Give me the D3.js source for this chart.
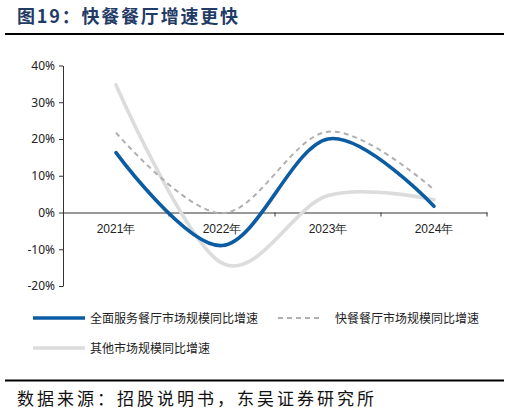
<!DOCTYPE html>
<html>
<head>
<meta charset="utf-8">
<script src="https://cdn.jsdelivr.net/npm/d3@7"></script>
<style>
  body { margin: 0; background: #fff; }
  svg { display: block; font-family: "Noto Sans CJK SC", "Noto Sans", sans-serif; }
</style>
</head>
<body>
<svg id="chart" width="510" height="413"></svg>
<script>
// data
var years = ["2021年", "2022年", "2023年", "2024年"];
var fullService = [16.3, -9.0, 20.0, 1.7];
var fastFood = [21.7, -0.2, 22.0, 6.2];
var others = [34.7, -13.8, 4.6, 3.5];
var yTicks = [-20, -10, 0, 10, 20, 30, 40];

var series = [
  { name: "全面服务餐厅市场规模同比增速", values: fullService, color: "#0B5CA3", width: 3.6, dash: null },
  { name: "快餐餐厅市场规模同比增速", values: fastFood, color: "#B0B0B0", width: 2, dash: "5,4" },
  { name: "其他市场规模同比增速", values: others, color: "#DCDCDC", width: 3.6, dash: null }
];

var svg = d3.select("#chart");
var plotL = 63, plotR = 487, plotT = 65.5, plotB = 286;

var x = d3.scaleBand().domain(years).range([plotL, plotR]);
var y = d3.scaleLinear().domain([-20, 40]).range([plotB, plotT]);

// title
svg.append("text")
  .attr("x", 17).attr("y", 23)
  .attr("font-size", 18).attr("font-weight", "bold")
  .attr("letter-spacing", 1.8)
  .attr("fill", "#1F3B66")
  .text("图19：快餐餐厅增速更快");
svg.append("line")
  .attr("x1", 5).attr("x2", 504).attr("y1", 34).attr("y2", 34)
  .attr("stroke", "#000").attr("stroke-width", 2);

// y axis
var yAxis = svg.append("g")
  .attr("transform", "translate(" + plotL + ",0)")
  .call(d3.axisLeft(y).tickValues(yTicks).tickFormat(function (d) { return d + "%"; }).tickSize(4).tickSizeOuter(0));
yAxis.select(".domain").attr("stroke", "#333");
yAxis.selectAll(".tick line").attr("stroke", "#333");
yAxis.selectAll(".tick text").attr("font-size", 12).attr("fill", "#222")
  .attr("font-family", "'Noto Sans', sans-serif").attr("x", -8);

// x axis at 0%
var xAxis = svg.append("g")
  .attr("transform", "translate(0," + y(0) + ")")
  .call(d3.axisBottom(x).tickSize(0));
xAxis.select(".domain").attr("stroke", "#333");
xAxis.selectAll(".tick text").attr("font-size", 12).attr("fill", "#222").attr("dy", "1.45em");
// ticks at band edges
var edges = years.map(function (d) { return x(d); }).concat([plotR]);
svg.append("g").selectAll("line").data(edges.slice(1)).enter().append("line")
  .attr("x1", function (d) { return d; }).attr("x2", function (d) { return d; })
  .attr("y1", y(0)).attr("y2", y(0) + 4)
  .attr("stroke", "#333");

// lines, drawn so that blue is on top
var line = d3.line()
  .x(function (d, i) { return x(years[i]) + x.bandwidth() / 2; })
  .y(function (d) { return y(d); })
  .curve(d3.curveCatmullRom.alpha(0));

[series[2], series[1], series[0]].forEach(function (s) {
  svg.append("path")
    .attr("d", line(s.values))
    .attr("fill", "none")
    .attr("stroke", s.color)
    .attr("stroke-width", s.width)
    .attr("stroke-dasharray", s.dash)
    .attr("stroke-linecap", s.dash ? "butt" : "round");
});

// legend
var legendPos = [[33, 318], [278, 318], [33, 348]];
series.forEach(function (s, i) {
  var p = legendPos[i];
  var len = i === 1 ? 44 : 52;
  svg.append("line")
    .attr("x1", p[0]).attr("x2", p[0] + len).attr("y1", p[1]).attr("y2", p[1])
    .attr("stroke", s.color).attr("stroke-width", s.width)
    .attr("stroke-dasharray", s.dash);
  svg.append("text")
    .attr("x", i === 1 ? 335 : 90).attr("y", p[1] + 4.5)
    .attr("font-size", 12).attr("fill", "#222")
    .text(s.name);
});

// source
svg.append("line")
  .attr("x1", 5).attr("x2", 504).attr("y1", 380.5).attr("y2", 380.5)
  .attr("stroke", "#000").attr("stroke-width", 2);
svg.append("text")
  .attr("x", 17).attr("y", 405)
  .attr("font-size", 17).attr("fill", "#111")
  .attr("letter-spacing", 3)
  .text("数据来源：招股说明书，东吴证券研究所");
</script>
</body>
</html>
